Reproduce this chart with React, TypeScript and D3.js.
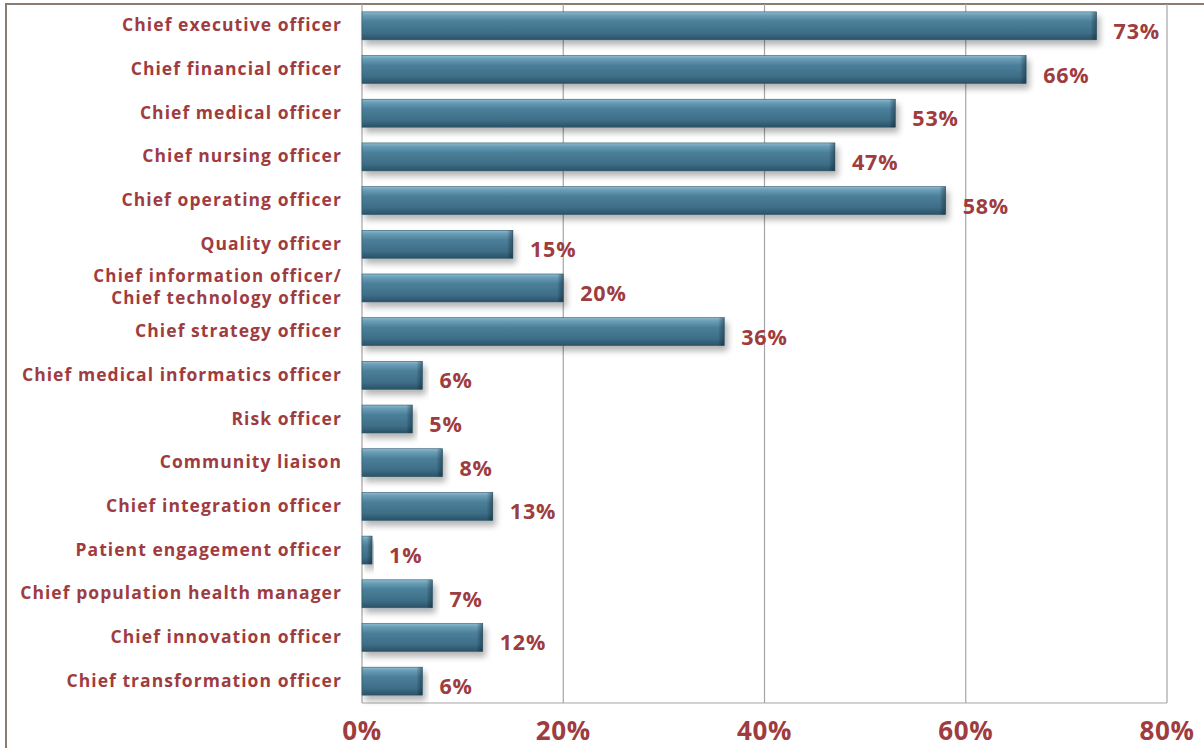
import * as d3 from 'd3';

const categories = [
  ['Chief executive officer'],
  ['Chief financial officer'],
  ['Chief medical officer'],
  ['Chief nursing officer'],
  ['Chief operating officer'],
  ['Quality officer'],
  ['Chief information officer/', 'Chief technology officer '],
  ['Chief strategy officer'],
  ['Chief medical informatics officer'],
  ['Risk officer'],
  ['Community liaison'],
  ['Chief integration officer'],
  ['Patient engagement officer'],
  ['Chief population health manager'],
  ['Chief innovation officer'],
  ['Chief transformation officer'],
];
const values = [73, 66, 53, 47, 58, 15, 20, 36, 6, 5, 8, 13, 1, 7, 12, 6];
const ticks = [0, 20, 40, 60, 80];

const W = 1204;
const H = 748;
const PLOT = { left: 362, right: 1167, top: 4, bottom: 703 };
const RED = '#9e3c3f';
const FONT = '"Open Sans", Lato, sans-serif';

export default function App() {
  const x = d3.scaleLinear().domain([0, 80]).range([PLOT.left, PLOT.right]);
  const y = d3
    .scaleBand<number>()
    .domain(d3.range(values.length))
    .range([PLOT.top, PLOT.bottom])
    .paddingInner(0.36)
    .paddingOuter(0.18);
  const bh = y.bandwidth();

  return (
    <svg
      width={W}
      height={H}
      style={{ position: 'absolute', left: 0, top: 0, background: '#fff' }}
      fontFamily={FONT}
    >
      <defs>
        <linearGradient id="barGrad" x1="0" y1="0" x2="0" y2="1">
          <stop offset="0" stopColor="#8dbbd0" />
          <stop offset="0.12" stopColor="#6a9db6" />
          <stop offset="0.35" stopColor="#4b7f99" />
          <stop offset="0.75" stopColor="#3e6e87" />
          <stop offset="1" stopColor="#2a5165" />
        </linearGradient>
        <linearGradient id="endGrad" x1="0" y1="0" x2="1" y2="0">
          <stop offset="0" stopColor="#000" stopOpacity="0" />
          <stop offset="1" stopColor="#0d2633" stopOpacity="0.45" />
        </linearGradient>
        <filter id="shadow" x="-5%" y="-30%" width="115%" height="180%">
          <feGaussianBlur in="SourceAlpha" stdDeviation="3" />
          <feOffset dx="3" dy="5" result="b" />
          <feComponentTransfer>
            <feFuncA type="linear" slope="0.3" />
          </feComponentTransfer>
          <feMerge>
            <feMergeNode />
            <feMergeNode in="SourceGraphic" />
          </feMerge>
        </filter>
      </defs>

      {/* outer frame */}
      <rect x={6} y={4} width={W + 10} height={H + 10} fill="none" stroke="#8b7b70" strokeWidth={2} />

      {/* gridlines */}
      {ticks.map((t) => (
        <line
          key={t}
          x1={x(t)}
          x2={x(t)}
          y1={PLOT.top}
          y2={PLOT.bottom}
          stroke="#a5a5a5"
          strokeWidth={1.2}
        />
      ))}
      <line x1={PLOT.left} x2={PLOT.right} y1={PLOT.bottom} y2={PLOT.bottom} stroke="#a5a5a5" strokeWidth={1.2} />

      {/* bars */}
      {values.map((v, i) => {
        const y0 = y(i)!;
        const w = x(v) - x(0);
        return (
          <g key={i} filter="url(#shadow)">
            <rect x={x(0)} y={y0} width={w} height={bh} fill="url(#barGrad)" stroke="#2f5a6e" strokeWidth={0.6} />
            <rect x={x(0) + w - Math.min(6, w / 2)} y={y0} width={Math.min(6, w / 2)} height={bh} fill="url(#endGrad)" />
          </g>
        );
      })}

      {/* value labels */}
      {values.map((v, i) => (
        <text
          key={i}
          x={x(v) + 17}
          y={y(i)! + bh / 2 + 13}
          fill={RED}
          fontSize={21.5}
          fontWeight={700}
          letterSpacing={0.8}
        >
          {v}%
        </text>
      ))}

      {/* category labels */}
      {categories.map((lines, i) => {
        const cy = y(i)! + bh / 2;
        const multi = lines.length > 1;
        const lh = 22;
        return (
          <text
            key={i}
            x={342}
            textAnchor="end"
            fill={RED}
            fontSize={multi ? 17 : 17.5}
            fontWeight={700}
            letterSpacing={multi ? 1.2 : 1.05}
          >
            {lines.map((l, j) => (
              <tspan key={j} x={342} y={cy + 5.5 + (j - (lines.length - 1) / 2) * lh}>
                {l}
              </tspan>
            ))}
          </text>
        );
      })}

      {/* axis tick labels */}
      {ticks.map((t) => (
        <text
          key={t}
          x={x(t)}
          y={740}
          textAnchor="middle"
          fill={RED}
          fontSize={26}
          fontWeight={700}
          letterSpacing={0.6}
        >
          {t}%
        </text>
      ))}
    </svg>
  );
}
